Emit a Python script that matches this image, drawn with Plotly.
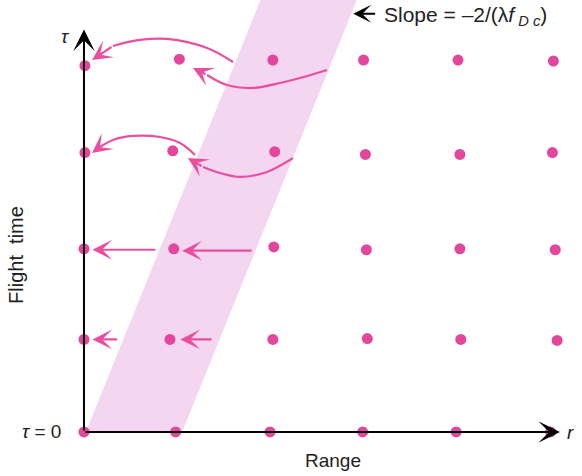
import plotly.graph_objects as go

# ---------------- data ----------------
# grid of dots (range r, flight time tau)
dot_r = [0.00, 0.98, 1.99, 2.98, 3.98, 4.99,
         0.00, 0.92, 2.02, 3.03, 4.03, 5.06,
         0.00, 0.96, 2.03, 3.02, 4.02, 5.04,
         0.01, 0.95, 2.04, 3.01, 4.02, 5.01,
         0.01, 1.02, 2.02, 2.99, 4.00, 5.02]
dot_tau = [0.00, 0.00, 0.00, 0.00, 0.00, 0.00,
           1.00, 1.00, 1.00, 1.01, 1.00, 0.99,
           1.98, 1.98, 2.00, 1.97, 1.98, 1.97,
           3.02, 3.04, 3.03, 3.00, 3.00, 3.02,
           3.96, 4.03, 4.02, 4.02, 4.02, 4.01]

# band of ambiguity (slope = -2/(lambda f_Dc))
band_r0 = 0.02
band_width = 1.03
band_slope = 0.40
band_top = 4.8

# straight migration arrows (tail -> tip)
straight_r_tail = [0.37, 1.38, 0.78, 1.81]
straight_r_tip = [0.09, 1.03, 0.09, 1.05]
straight_tau = [1.00, 1.00, 1.97, 1.96]

# curved migration arrows (points listed from tail to tip)
curves_r = [
    [1.594, 1.316, 0.888, 0.599, 0.310, 0.086],
    [2.599, 2.310, 2.096, 1.807, 1.529, 1.316, 1.166],
    [1.187, 1.027, 0.813, 0.524, 0.310, 0.171, 0.086],
    [2.235, 2.203, 1.957, 1.668, 1.455, 1.273, 1.112],
]
curves_tau = [
    [4.000, 4.151, 4.249, 4.238, 4.173, 4.022],
    [3.914, 3.827, 3.773, 3.719, 3.751, 3.859, 3.935],
    [2.995, 3.124, 3.189, 3.200, 3.157, 3.081, 3.016],
    [2.962, 2.941, 2.811, 2.757, 2.800, 2.865, 2.962],
]

# axis extents
r_axis_end = 5.09
tau_axis_end = 4.35

# ---------------- figure ----------------
MAG = "#e2479d"
ARROW = "#e8509f"
BAND = "#f4d6f1"
FONT = "Liberation Sans"
TXT = "#222222"

fig = go.Figure()

# band
band_x = [band_r0, band_r0 + band_width,
          band_r0 + band_width + band_slope * band_top,
          band_r0 + band_slope * band_top]
band_y = [0, 0, band_top, band_top]
fig.add_trace(go.Scatter(x=band_x, y=band_y, fill="toself", fillcolor=BAND,
                         mode="lines", line=dict(width=0), hoverinfo="skip"))

# curves
for cx, cy in zip(curves_r, curves_tau):
    fig.add_trace(go.Scatter(x=cx[:-1], y=cy[:-1], mode="lines",
                             line=dict(color=ARROW, width=2.2, shape="spline"),
                             hoverinfo="skip"))

# dots
fig.add_trace(go.Scatter(x=dot_r, y=dot_tau, mode="markers",
                         marker=dict(color=MAG, size=11, line=dict(width=0)),
                         cliponaxis=False))

annotations = []

def arrow(x, y, ax, ay, color, width=2.0, size=1.0, head=3):
    annotations.append(dict(x=x, y=y, ax=ax, ay=ay, xref="x", yref="y",
                            axref="x", ayref="y", text="", showarrow=True,
                            arrowhead=head, arrowsize=size, arrowwidth=width,
                            arrowcolor=color, standoff=0, startstandoff=0))

# axes
arrow(r_axis_end, 0, 0, 0, "black", 2, 1.8)
arrow(0, tau_axis_end, 0, 0, "black", 2, 1.8)

# straight arrows
for rt, rp, t in zip(straight_r_tail, straight_r_tip, straight_tau):
    arrow(rp, t, rt, t, ARROW, 2.2, 1.5)

# curved arrow heads
for cx, cy in zip(curves_r, curves_tau):
    arrow(cx[-1], cy[-1], cx[-2], cy[-2], ARROW, 2.2, 1.5)

# slope label arrow
arrow(2.88, 4.52, 3.13, 4.52, "black", 2, 1.5)
annotations.append(dict(x=3.19, y=4.50, xref="x", yref="y", xanchor="left",
                        yanchor="middle", showarrow=False,
                        text="Slope = \u20132/(\u03bb<i>f</i><sub><i> D c</i></sub>)",
                        font=dict(family=FONT, size=21, color=TXT)))

# text labels
annotations.append(dict(x=-0.22, y=0, xref="x", yref="y", xanchor="right",
                        yanchor="middle", showarrow=False, text="<i>\u03c4</i> = 0",
                        font=dict(family=FONT, size=19, color=TXT)))
annotations.append(dict(x=-0.20, y=4.28, xref="x", yref="y", xanchor="center",
                        yanchor="middle", showarrow=False, text="<i>\u03c4</i>",
                        font=dict(family=FONT, size=19, color=TXT)))
annotations.append(dict(x=5.2, y=-0.01, xref="x", yref="y", xanchor="center",
                        yanchor="middle", showarrow=False, text="<i>r</i>",
                        font=dict(family=FONT, size=19, color=TXT)))
annotations.append(dict(x=2.66, y=-0.31, xref="x", yref="y", xanchor="center",
                        yanchor="middle", showarrow=False, text="Range",
                        font=dict(family=FONT, size=19, color=TXT)))
annotations.append(dict(x=-0.72, y=1.91, xref="x", yref="y", xanchor="center",
                        yanchor="middle", showarrow=False, text="Flight  time",
                        textangle=-90,
                        font=dict(family=FONT, size=20, color=TXT)))

fig.update_layout(
    width=582, height=476,
    margin=dict(l=0, r=0, t=0, b=0),
    paper_bgcolor="white", plot_bgcolor="white",
    showlegend=False,
    xaxis=dict(range=[-0.898, 5.326], visible=False, fixedrange=True),
    yaxis=dict(range=[-0.476, 4.670], visible=False, fixedrange=True),
    annotations=annotations,
)

fig.write_html("out.html")
